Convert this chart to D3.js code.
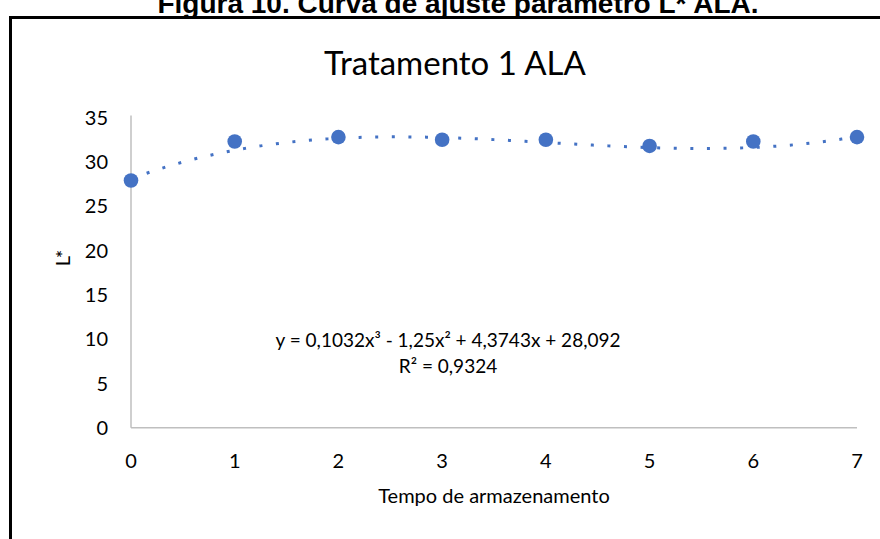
<html>
<head>
<script src='https://d3js.org/d3.v7.min.js'></script>
<style>
  body { margin: 0; background: white; }
  .lbl { font-family: Lato, "Open Sans", sans-serif; fill: #000; }
</style>
</head>
<body>
<svg width=880 height=539></svg>
<script>
  // data
  var tempo = [0, 1, 2, 3, 4, 5, 6, 7];
  var lValues = [27.9, 32.3, 32.8, 32.5, 32.5, 31.8, 32.3, 32.8];
  var yTicks = [0, 5, 10, 15, 20, 25, 30, 35];
  // trendline coefficients as printed on the chart (x^3, x^2, x, const)
  var trendCoef = [0.1032, -1.25, 4.3743, 28.092];
  var eqText = "y = 0,1032x³ - 1,25x² + 4,3743x + 28,092";
  var r2Text = "R² = 0,9324";

  var svg = d3.select("svg");
  var blue = "#4472C4";

  var xs = d3.scaleLinear().domain([0, 7]).range([131, 857]);
  var ys = d3.scaleLinear().domain([0, 35]).range([427.7, 117.6]);

  // figure caption (cut at the top in the original)
  svg.append("text")
    .attr("x", 458).attr("y", 13)
    .attr("text-anchor", "middle")
    .style("font", "bold 28px 'Liberation Sans', Arial, sans-serif")
    .text("Figura 10. Curva de ajuste parâmetro L* ALA.");

  // chart frame
  svg.append("rect")
    .attr("x", 10.5).attr("y", 17.5)
    .attr("width", 1000).attr("height", 1000)
    .attr("fill", "white")
    .attr("stroke", "#000").attr("stroke-width", 3);

  svg.append("text").attr("class", "lbl")
    .attr("x", 455).attr("y", 75)
    .attr("text-anchor", "middle")
    .style("font-size", "33px")
    .text("Tratamento 1 ALA");

  // axes
  svg.append("line")
    .attr("x1", xs(0)).attr("x2", xs(0))
    .attr("y1", ys(35) - 2).attr("y2", ys(0))
    .attr("stroke", "#BFBFBF").attr("stroke-width", 1.5);
  svg.append("line")
    .attr("x1", xs(0)).attr("x2", xs(7))
    .attr("y1", ys(0)).attr("y2", ys(0))
    .attr("stroke", "#BFBFBF").attr("stroke-width", 1.5);

  svg.append("g").selectAll("text").data(yTicks).enter()
    .append("text").attr("class", "lbl")
    .attr("x", 108)
    .attr("y", function(d) { return ys(d); })
    .attr("dy", "0.36em")
    .attr("text-anchor", "end")
    .style("font-size", "20px")
    .text(function(d) { return d; });

  svg.append("g").selectAll("text").data(tempo).enter()
    .append("text").attr("class", "lbl")
    .attr("x", function(d) { return xs(d); })
    .attr("y", 468)
    .attr("text-anchor", "middle")
    .style("font-size", "20px")
    .text(function(d) { return d; });

  svg.append("text").attr("class", "lbl")
    .attr("x", 494).attr("y", 503)
    .attr("text-anchor", "middle")
    .style("font-size", "20px")
    .text("Tempo de armazenamento");

  svg.append("text").attr("class", "lbl")
    .attr("transform", "translate(70,258) rotate(-90)")
    .attr("text-anchor", "middle")
    .style("font-size", "20px")
    .text("L*");

  // polynomial trendline
  var trend = d3.range(0, 7.001, 0.05).map(function(x) {
    return [x, trendCoef[0] * x * x * x + trendCoef[1] * x * x + trendCoef[2] * x + trendCoef[3]];
  });
  svg.append("path")
    .datum(trend)
    .attr("d", d3.line().x(function(d) { return xs(d[0]); }).y(function(d) { return ys(d[1]); }))
    .attr("fill", "none")
    .attr("stroke", blue)
    .attr("stroke-width", 3)
    .attr("stroke-dasharray", "3,13.6");

  // points
  svg.append("g").selectAll("circle").data(tempo).enter()
    .append("circle")
    .attr("cx", function(d) { return xs(d); })
    .attr("cy", function(d, i) { return ys(lValues[i]); })
    .attr("r", 7.3)
    .attr("fill", blue);

  svg.append("text").attr("class", "lbl")
    .attr("x", 448).attr("y", 347)
    .attr("text-anchor", "middle")
    .style("font-size", "19px")
    .text(eqText);
  svg.append("text").attr("class", "lbl")
    .attr("x", 448).attr("y", 373)
    .attr("text-anchor", "middle")
    .style("font-size", "19px")
    .text(r2Text);
</script>
</body>
</html>
